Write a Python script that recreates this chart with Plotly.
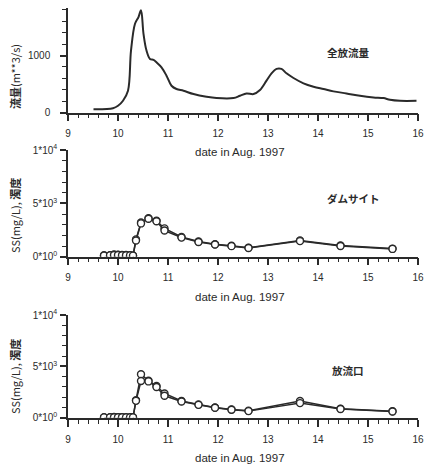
import plotly.graph_objects as go

# ---------------- data ----------------
flow_day = [9.51, 9.9, 10.0, 10.1, 10.2, 10.26, 10.34, 10.41, 10.46, 10.51, 10.57, 10.64, 10.71,
            10.77, 10.87, 10.97, 11.07, 11.17, 11.31, 11.51, 11.77, 11.97, 12.31, 12.44, 12.57,
            12.71, 12.84, 12.97, 13.07, 13.17, 13.27, 13.37, 13.51, 13.71, 13.91, 14.11, 14.31,
            14.57, 14.84, 15.11, 15.31, 15.44, 15.64, 15.97]
flow_val = [59, 76, 118, 206, 382, 1088, 1559, 1676, 1794, 1382, 1088, 941, 924,
            882, 794, 647, 470, 412, 382, 324, 276, 253, 253, 294, 335,
            324, 394, 559, 688, 765, 765, 688, 606, 512, 453, 412, 371,
            335, 294, 265, 253, 224, 206, 206]

ss_day = [9.72, 9.84, 9.92, 10.0, 10.08, 10.16, 10.24, 10.3, 10.36, 10.46, 10.61, 10.77,
          10.93, 11.27, 11.61, 11.94, 12.27, 12.61, 13.64, 14.45, 15.49]

dam_ss = [130, 150, 210, 190, 170, 160, 150, 120, 1620, 3200, 3600, 3380, 2650, 1850, 1420,
          1170, 1020, 850, 1520, 1050, 760]
dam_turb = [100, 120, 160, 160, 140, 130, 120, 100, 1520, 3120, 3560, 3320, 2450, 1790, 1380,
            1140, 990, 820, 1460, 1000, 730]

out_ss = [60, 50, 80, 70, 60, 60, 50, 50, 1720, 4230, 3610, 3090, 2370, 1640, 1300,
          1010, 810, 680, 1630, 890, 630]
out_turb = [40, 40, 60, 50, 50, 40, 40, 40, 1650, 3580, 3540, 3000, 2140, 1590, 1260,
            980, 790, 650, 1430, 860, 610]

x_ticks = [9, 10, 11, 12, 13, 14, 15, 16]
flow_ticks = [0, 1000]
flow_ticktext = ["0", "1000"]
ss_ticks = [0, 5000, 10000]
ss_ticktext = ["0*10<sup>0</sup>", "5*10<sup>3</sup>", "1*10<sup>4</sup>"]

W, H = 426, 468
INK = "#2a2a2a"


def px(x):
    return x / W


def py(y):
    return 1 - y / H


fig = go.Figure()

marker = dict(symbol="circle", size=7, color="white", line=dict(width=1.4, color=INK))

fig.add_trace(go.Scatter(x=flow_day, y=flow_val, mode="lines", line=dict(color=INK, width=2),
                         line_shape="spline", xaxis="x", yaxis="y", showlegend=False))
for ys in (dam_ss, dam_turb):
    fig.add_trace(go.Scatter(x=ss_day, y=ys, mode="lines+markers", line=dict(color=INK, width=1.5),
                             marker=marker, xaxis="x2", yaxis="y2", showlegend=False))
for ys in (out_ss, out_turb):
    fig.add_trace(go.Scatter(x=ss_day, y=ys, mode="lines+markers", line=dict(color=INK, width=1.5),
                             marker=marker, xaxis="x3", yaxis="y3", showlegend=False))

tickfont = dict(family="Liberation Sans, Arial, sans-serif", size=10, color=INK)

xdom = [px(68), px(418)]


def xaxis(anchor):
    return dict(domain=xdom, range=[9, 16], anchor=anchor, showline=True, linecolor=INK,
                linewidth=1.5, ticks="outside", ticklen=7, tickwidth=1.5, tickcolor=INK,
                tickvals=x_ticks, tickfont=tickfont, showgrid=False, zeroline=False,
                automargin=False, ticklabelstandoff=4,
                minor=dict(dtick=0.2, tick0=9, ticks="outside", ticklen=4, tickwidth=1.2,
                           tickcolor=INK, showgrid=False))


def yaxis(anchor, dom, rng, tv, tt, mdt, standoff):
    return dict(domain=dom, range=rng, anchor=anchor, showline=True, linecolor=INK,
                linewidth=1.5, ticks="outside", ticklen=6, tickwidth=1.5, tickcolor=INK,
                tickvals=tv, ticktext=tt, tickfont=tickfont, showgrid=False, zeroline=False,
                automargin=False, ticklabelstandoff=standoff,
                minor=dict(dtick=mdt, tick0=0, ticks="outside", ticklen=4, tickwidth=1.2,
                           tickcolor=INK, showgrid=False))


fig.update_layout(
    width=W, height=H, margin=dict(l=0, r=0, t=0, b=0),
    paper_bgcolor="white", plot_bgcolor="white", template="none",
    xaxis=xaxis("y"),
    xaxis2=xaxis("y2"),
    xaxis3=xaxis("y3"),
    yaxis=yaxis("x", [py(112.5), py(8)], [0, 1835], flow_ticks, flow_ticktext, 200, 8),
    yaxis2=yaxis("x2", [py(256.7), py(150)], [0, 10000], ss_ticks, ss_ticktext, 1000, 1),
    yaxis3=yaxis("x3", [py(417.8), py(315)], [0, 10000], ss_ticks, ss_ticktext, 1000, 1),
)

cjk = "Noto Sans CJK JP, Liberation Sans, sans-serif"
ann = []
for yc in (152, 297, 458):
    ann.append(dict(x=px(240), y=py(yc), text="date in Aug. 1997",
                    font=dict(family="Liberation Sans, Arial", size=11.5, color=INK)))
for yc, t in ((77, "<b>流量</b>(m**3/s)"), (216, "SS(mg/L), <b>濁度</b>"), (377, "SS(mg/L), <b>濁度</b>")):
    ann.append(dict(x=px(15), y=py(yc), text=t, textangle=-90,
                    font=dict(family=cjk, size=11, color=INK)))
for (xc, yc, t) in ((348, 52, "全放流量"), (353, 198, "ダムサイト"), (348, 370, "放流口")):
    ann.append(dict(x=px(xc), y=py(yc), text="<b>%s</b>" % t,
                    font=dict(family=cjk, size=10.5, color=INK)))
for a in ann:
    a.update(xref="paper", yref="paper", xanchor="center", yanchor="middle", showarrow=False)
fig.update_layout(annotations=ann)

fig.write_html("out.html")
